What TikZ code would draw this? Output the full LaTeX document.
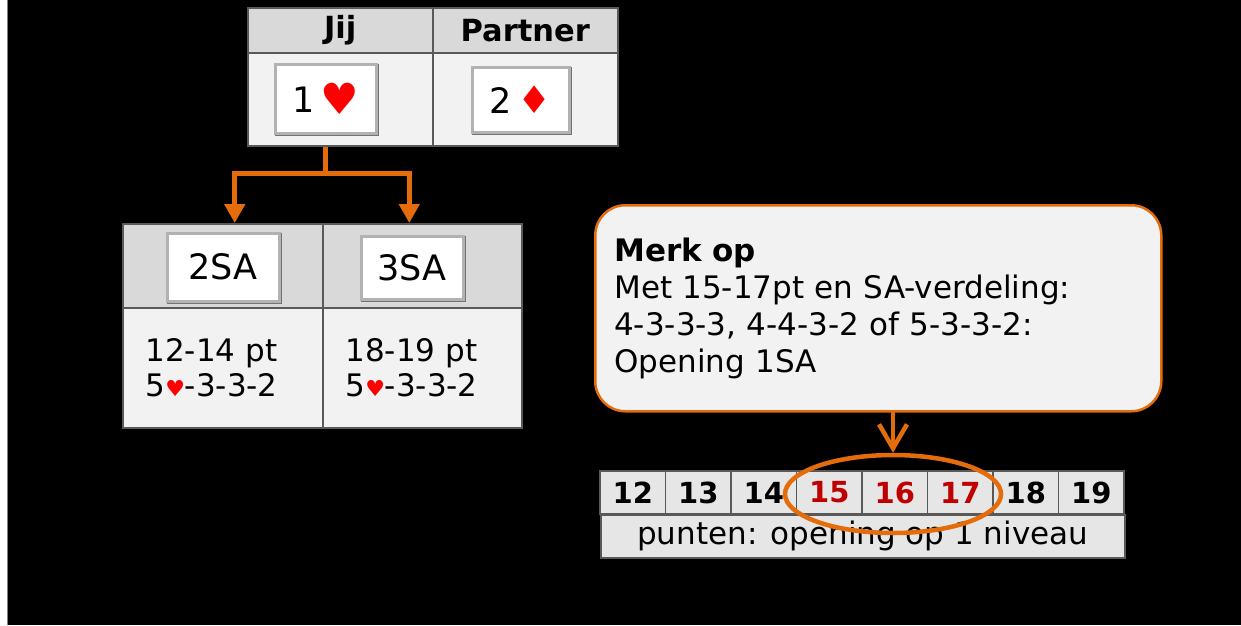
\documentclass[tikz,border=0pt]{standalone}
\usepackage{fontspec}
\setmainfont{DejaVu Sans}
\usetikzlibrary{chains,positioning,shapes.geometric,arrows.meta}
\definecolor{kopgrijs}{HTML}{D9D9D9}
\definecolor{vakgrijs}{HTML}{F2F2F2}
\definecolor{rijgrijs}{HTML}{E6E6E6}
\definecolor{oranje}{HTML}{E46C0A}
\definecolor{donkerrood}{HTML}{C00000}
\newcommand{\hart}[1]{{\fontsize{#1}{#1}\selectfont\textcolor{red}{♥}}}
\newcommand{\ruit}[1]{{\fontsize{#1}{#1}\selectfont\textcolor{red}{♦}}}

\begin{document}
\begin{tikzpicture}[x=1pt,y=-1pt,
    cel/.style={draw=black!65,line width=1.5pt,inner sep=0pt,anchor=north west},
    kop/.style={cel,fill=kopgrijs,font=\fontsize{30.5}{34}\selectfont\bfseries},
    vak/.style={cel,fill=vakgrijs},
    knop/.style={draw=black!30,line width=3pt,fill=white,inner sep=0pt,font=\fontsize{35}{40}\selectfont,
      preaction={draw=black!55,line width=3pt,transform canvas={shift={(1pt,-1.5pt)}}}},
    tekst/.style={anchor=west,align=left,font=\fontsize{31}{35}\selectfont},
    getal/.style={draw=black!65,line width=1.5pt,fill=rijgrijs,minimum width=65.5pt,minimum height=43pt,
      inner sep=0pt,font=\fontsize{29}{32}\selectfont\bfseries},
    pijl/.style={draw=oranje,line width=5pt,-{Triangle[length=19pt,width=20pt]}},
    start chain=punten going right,node distance=-1.5pt]
  \useasboundingbox (0,0) rectangle (1241,625);
  \fill[white] (0,0) rectangle (7,625);
  \fill[black] (7,0) rectangle (1241,625);
  \draw[gray,line width=1pt] (7,0) -- (7,625);

  % bod van jij en partner
  \node[kop,minimum width=185pt,minimum height=45pt] (jijKop) at (247,7) {Jij};
  \node[kop,minimum width=185pt,minimum height=45pt] (partnerKop) at (432,7) {Partner};
  \node[vak,minimum width=185pt,minimum height=93pt] (jijVak) at (247,52) {};
  \node[vak,minimum width=185pt,minimum height=93pt] (partnerVak) at (432,52) {};
  \node[knop,minimum width=101pt,minimum height=69pt] (knopEen) at (325.5,98.5) {1\,\raisebox{-2pt}{\hart{43}}};
  \node[knop,minimum width=97pt,minimum height=65pt] (knopTwee) at (520.5,99.5) {2\,\ruit{38}};

  % antwoorden
  \node[kop,minimum width=200pt,minimum height=84pt] (tweeSAKop) at (122,223) {};
  \node[kop,minimum width=199pt,minimum height=84pt] (drieSAKop) at (322,223) {};
  \node[vak,minimum width=200pt,minimum height=120pt] (tweeSAVak) at (122,307) {};
  \node[vak,minimum width=199pt,minimum height=120pt] (drieSAVak) at (322,307) {};
  \node[knop,minimum width=112pt,minimum height=68pt] (knopTweeSA) at (223,267) {2SA};
  \node[knop,minimum width=102pt,minimum height=63pt] (knopDrieSA) at (412,267.5) {3SA};
  \node[tekst] (tweeSATekst) at ([xshift=20pt]tweeSAVak.west) {12-14 pt\\5\hart{22}-3-3-2};
  \node[tekst] (drieSATekst) at ([xshift=20pt]drieSAVak.west) {18-19 pt\\5\hart{22}-3-3-2};

  \coordinate (splitsing) at ([yshift=-27pt]knopEen |- jijVak.south);
  \draw[pijl] (knopEen |- jijVak.south) -- (splitsing) -| ([xshift=12pt]tweeSAKop.north);
  \draw[pijl] (splitsing) -| ([xshift=-13pt]drieSAKop.north);

  % opmerking
  \node[draw=oranje,line width=2.5pt,fill=vakgrijs,rounded corners=30pt,anchor=north west,
    minimum width=566pt,minimum height=206pt,text width=528pt,inner xsep=19pt,align=left,
    font=\fontsize{31}{37}\selectfont] (merkOp) at (594,204)
    {\textbf{Merk op}\\Met 15-17pt en SA-verdeling:\\4-3-3-3, 4-4-3-2 of 5-3-3-2:\\Opening 1SA};

  % puntenschaal
  \node[getal,on chain=punten] (p12) at (632.75,492.5) {12};
  \foreach \x in {13,14} {
    \node[getal,on chain=punten] (p\x) {\x};
  }
  \foreach \x in {15,16,17} {
    \node[getal,on chain=punten,text=donkerrood] (p\x) {\x};
  }
  \foreach \x in {18,19} {
    \node[getal,on chain=punten] (p\x) {\x};
  }
  \node[cel,fill=rijgrijs,minimum width=524pt,minimum height=43pt,font=\fontsize{31}{35}\selectfont]
    (puntenRij) at (600,514) {punten: opening op 1 niveau};

  \node[draw=oranje,line width=4.5pt,ellipse,minimum width=216pt,minimum height=78pt] (kring) at (893,494) {};
  \draw[draw=oranje,line width=4.5pt,line cap=round,-{Straight Barb[length=24pt,width=28pt]}]
    (kring.north |- merkOp.south) -- (kring.north);
\end{tikzpicture}
\end{document}
